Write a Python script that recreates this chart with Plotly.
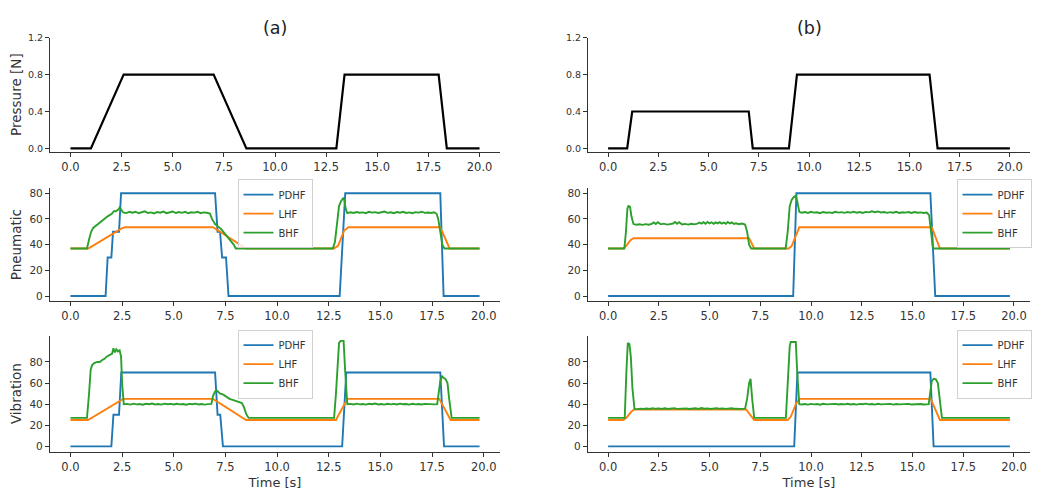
import plotly.graph_objects as go

# ---------------- data ----------------
# Pressure
pa_t = [0, 1.0, 2.6, 7.0, 8.6, 13.0, 13.4, 18.0, 18.4, 20.0]
pa_v = [0, 0, 0.8, 0.8, 0, 0, 0.8, 0.8, 0, 0]
pb_t = [0, 0.95, 1.2, 7.0, 7.2, 9.0, 9.4, 16.0, 16.4, 20.0]
pb_v = [0, 0, 0.4, 0.4, 0, 0, 0.8, 0.8, 0, 0]

# Pneumatic (a)
a_pn_pdhf_t = [0, 1.7, 1.8, 1.98, 2.06, 2.35, 2.45, 7.0, 7.12, 7.24, 7.34, 7.53, 7.65, 13.03, 13.3, 17.9, 18.06, 19.8]
a_pn_pdhf_v = [0, 0, 30, 30, 50, 50, 80, 80, 50, 50, 30, 30, 0, 0, 80, 80, 0, 0]
a_pn_lhf_t = [0, 0.85, 1.0, 2.5, 2.65, 6.9, 8.5, 12.75, 12.95, 13.25, 13.45, 17.9, 18.35, 19.8]
a_pn_lhf_v = [37, 37, 38.2, 52.8, 53.5, 53.5, 37, 37, 39, 51, 53.5, 53.5, 37, 37]
a_pn_bhf_t = [0, 0.8, 0.9, 1.0, 1.1, 1.25, 1.4, 1.6, 1.8, 2.0, 2.1, 2.2, 2.3, 2.38, 2.45, 2.55,
              2.7, 2.85, 3.0, 3.15, 3.3, 3.45, 3.6, 3.75, 3.9, 4.05, 4.2, 4.35, 4.5, 4.65, 4.8, 4.95,
              5.1, 5.25, 5.4, 5.55, 5.7, 5.85, 6.0, 6.15, 6.3, 6.45, 6.6, 6.75,
              6.85, 7.0, 7.15, 7.3, 7.45, 7.6, 7.75, 7.9, 8.0,
              12.7, 12.8, 12.9, 13.0, 13.1, 13.2, 13.25, 13.32, 13.4,
              13.55, 13.7, 13.85, 14.0, 14.15, 14.3, 14.45, 14.6, 14.75, 14.9, 15.05, 15.2, 15.35,
              15.5, 15.65, 15.8, 15.95, 16.1, 16.25, 16.4, 16.55, 16.7, 16.85, 17.0, 17.15, 17.3,
              17.45, 17.6, 17.72, 17.8, 17.9, 18.0, 18.1, 19.8]
a_pn_bhf_v = [37, 37, 44, 50, 53, 55, 57, 60, 62, 64, 66, 66, 67, 69, 67, 65,
              64.5, 65.5, 64.8, 65.6, 64.4, 65.2, 65.9, 64.6, 65.1, 64.3, 65.4, 64.8, 65.7, 64.5, 65.0, 65.8,
              64.6, 65.3, 64.7, 65.5, 64.4, 65.2, 64.9, 65.6, 64.5, 65.1, 64.8, 64.2,
              60, 56, 54, 52, 49, 46, 43, 40, 37,
              37, 42, 56, 70, 74, 76, 75, 68, 64.5,
              65.2, 64.6, 65.4, 64.8, 65.1, 64.5, 65.6, 64.9, 65.3, 64.6, 65.0, 65.7, 64.7,
              65.2, 64.5, 65.4, 64.8, 65.5, 64.6, 65.1, 64.4, 65.3, 64.9, 65.6, 64.7, 65.0,
              64.6, 65.2, 64.0, 60, 50, 40, 37, 37]

# Vibration (a)
a_vb_pdhf_t = [0, 1.98, 2.08, 2.35, 2.46, 7.0, 7.12, 7.25, 7.38, 13.15, 13.35, 17.9, 18.08, 19.8]
a_vb_pdhf_v = [0, 0, 30, 30, 70, 70, 30, 30, 0, 0, 70, 70, 0, 0]
a_vb_lhf_t = [0, 0.85, 2.55, 6.9, 8.5, 12.85, 13.4, 17.85, 18.4, 19.8]
a_vb_lhf_v = [25, 25, 45, 45, 25, 25, 45, 45, 25, 25]
a_vb_bhf_t = [0, 0.8, 0.9, 0.98, 1.05, 1.15, 1.3, 1.42, 1.55, 1.65, 1.75, 1.85, 1.95, 2.02, 2.08,
              2.15, 2.22, 2.3, 2.38, 2.45, 2.5, 2.58,
              2.75, 2.9, 3.05, 3.2, 3.35, 3.5, 3.65, 3.8, 3.95, 4.1, 4.25, 4.4, 4.55, 4.7, 4.85, 5.0,
              5.15, 5.3, 5.45, 5.6, 5.75, 5.9, 6.05, 6.2, 6.35, 6.5, 6.65, 6.82,
              6.9, 7.0, 7.08, 7.15, 7.25, 7.4, 7.55, 7.7, 7.85, 8.0, 8.15, 8.3, 8.4, 8.5, 8.62,
              12.76, 12.85, 12.95, 13.0, 13.08, 13.22, 13.3, 13.4,
              13.55, 13.7, 13.85, 14.0, 14.15, 14.3, 14.45, 14.6, 14.75, 14.9, 15.05, 15.2, 15.35,
              15.5, 15.65, 15.8, 15.95, 16.1, 16.25, 16.4, 16.55, 16.7, 16.85, 17.0, 17.15, 17.3,
              17.45, 17.6, 17.75, 17.82, 17.9, 17.98, 18.05, 18.15, 18.25, 18.33, 18.45, 19.8]
a_vb_bhf_v = [27, 27, 50, 73, 77, 79, 80, 80, 82, 83, 85, 86, 87, 88, 93,
              89, 92, 90, 91, 85, 60, 40,
              40.3, 39.6, 40.5, 39.8, 40.2, 39.5, 40.4, 39.9, 40.6, 39.7, 40.1, 39.6, 40.5, 39.9, 40.3, 39.7,
              40.4, 39.8, 40.2, 39.5, 40.3, 39.9, 40.5, 39.7, 40.1, 39.6, 40.0, 40.2,
              48, 52, 53, 52, 50, 49, 47, 45, 44, 43, 42, 41, 37, 31, 27,
              27, 50, 90, 98, 100, 100, 70, 40,
              40.3, 39.7, 40.5, 39.8, 40.2, 39.6, 40.4, 39.9, 40.6, 39.7, 40.1, 39.6, 40.4,
              39.8, 40.3, 39.7, 40.5, 39.9, 40.2, 39.6, 40.4, 39.8, 40.1, 39.7, 40.3, 39.9,
              40.2, 39.8, 40.0, 50, 62, 67, 65, 64, 60, 45, 27, 27]

# Pneumatic (b)
b_pn_pdhf_t = [0, 9.12, 9.28, 15.88, 16.12, 19.8]
b_pn_pdhf_v = [0, 0, 80, 80, 0, 0]
b_pn_lhf_t = [0, 0.75, 0.9, 1.1, 1.25, 6.95, 7.2, 8.9, 9.05, 9.25, 9.42, 15.95, 16.35, 19.8]
b_pn_lhf_v = [37, 37, 39, 43.5, 45, 45, 37, 37, 39, 47, 53.5, 53.5, 37, 37]
b_pn_bhf_t = [0, 0.8, 0.88, 0.95, 1.0, 1.08, 1.15, 1.25,
              1.4, 1.55, 1.7, 1.85, 2.0, 2.15, 2.25, 2.35, 2.45, 2.6, 2.75, 2.9, 3.05, 3.2, 3.3, 3.4,
              3.5, 3.65, 3.8, 3.95, 4.1, 4.25, 4.4, 4.5, 4.6, 4.7, 4.8, 4.9, 5.0, 5.1, 5.2, 5.3, 5.4,
              5.5, 5.6, 5.7, 5.8, 5.9, 6.0, 6.1, 6.2, 6.3, 6.45, 6.6, 6.75,
              6.85, 6.95, 7.05, 8.75, 8.85, 8.95, 9.05, 9.15, 9.25, 9.32, 9.42,
              9.55, 9.7, 9.85, 10.0, 10.15, 10.3, 10.45, 10.6, 10.75, 10.9, 11.05, 11.2, 11.35,
              11.5, 11.65, 11.8, 11.95, 12.1, 12.25, 12.4, 12.55, 12.7, 12.85, 13.0, 13.15, 13.3,
              13.45, 13.6, 13.75, 13.9, 14.05, 14.2, 14.35, 14.5, 14.65, 14.8, 14.95, 15.1, 15.25,
              15.4, 15.55, 15.7, 15.82, 15.9, 16.0, 16.05, 19.8]
b_pn_bhf_v = [37, 37, 50, 68, 70, 69.5, 62, 56,
              55.5, 55.8, 55.4, 55.9, 55.5, 56.2, 57.3, 56.1, 57.4, 55.8, 56.3, 55.6, 56.0, 56.4, 57.6, 56.2,
              57.5, 55.7, 56.1, 55.6, 56.2, 55.8, 56.3, 57.2, 56.4, 57.5, 56.3, 57.6, 56.5, 57.4, 56.2, 57.3, 56.5,
              57.5, 56.4, 57.2, 56.2, 57.6, 56.5, 57.3, 56.1, 56.6, 55.9, 56.4, 55.6,
              50, 40, 37, 37, 50, 70, 75, 77, 78, 74, 65.5,
              64.8, 65.3, 64.6, 65.5, 64.9, 65.2, 64.5, 65.4, 64.8, 65.1, 64.6, 65.5, 64.9,
              65.3, 64.7, 65.4, 64.9, 65.6, 64.8, 65.3, 64.6, 65.5, 65.1, 65.9, 65.2, 65.8,
              65.0, 65.4, 64.7, 65.3, 64.8, 65.5, 64.6, 65.2, 64.9, 65.4, 64.6, 65.3, 64.8,
              65.1, 64.6, 64.9, 63, 52, 38, 37, 37]

# Vibration (b)
b_vb_pdhf_t = [0, 9.17, 9.33, 15.88, 16.04, 19.8]
b_vb_pdhf_v = [0, 0, 70, 70, 0, 0]
b_vb_lhf_t = [0, 0.75, 0.9, 1.15, 1.3, 6.8, 7.2, 8.85, 9.0, 9.25, 9.42, 15.9, 16.35, 19.8]
b_vb_lhf_v = [25, 25, 27, 33, 35, 35, 25, 25, 28, 40, 45, 45, 25, 25]
b_vb_bhf_t = [0, 0.82, 0.9, 0.97, 1.05, 1.12, 1.2, 1.3,
              1.45, 1.6, 1.75, 1.9, 2.05, 2.2, 2.35, 2.5, 2.65, 2.8, 2.95, 3.1, 3.25, 3.4, 3.55, 3.7,
              3.85, 4.0, 4.15, 4.3, 4.45, 4.6, 4.75, 4.9, 5.05, 5.2, 5.35, 5.5, 5.65, 5.8, 5.95, 6.1,
              6.25, 6.4, 6.55, 6.75,
              6.85, 6.95, 7.02, 7.1, 7.2, 8.76, 8.85, 8.95, 9.0, 9.25, 9.32, 9.42,
              9.55, 9.7, 9.85, 10.0, 10.15, 10.3, 10.45, 10.6, 10.75, 10.9, 11.05, 11.2, 11.35,
              11.5, 11.65, 11.8, 11.95, 12.1, 12.25, 12.4, 12.55, 12.7, 12.85, 13.0, 13.15, 13.3,
              13.45, 13.6, 13.75, 13.9, 14.05, 14.2, 14.35, 14.5, 14.65, 14.8, 14.95, 15.1, 15.25,
              15.4, 15.55, 15.7, 15.8, 15.88, 15.95, 16.05, 16.15, 16.25, 16.35, 16.45, 19.8]
b_vb_bhf_v = [27, 27, 70, 98, 97, 85, 55, 35.5,
              35.3, 35.8, 35.4, 35.9, 35.5, 36.2, 35.6, 36.0, 35.5, 36.1, 35.4, 35.9, 36.2, 35.5, 35.9, 35.6,
              36.0, 35.4, 35.8, 36.1, 35.5, 36.3, 35.7, 36.0, 35.5, 35.9, 36.2, 35.6, 36.0, 35.5, 35.9, 36.1,
              35.6, 35.9, 35.5, 35.8,
              45, 60, 64, 45, 27, 27, 60, 95, 99, 99, 70, 40,
              39.7, 40.2, 39.6, 40.3, 39.8, 40.1, 39.5, 40.4, 39.8, 40.0, 39.6, 40.3, 39.7,
              40.2, 39.8, 40.4, 39.7, 40.1, 39.6, 40.3, 39.9, 40.5, 39.8, 40.2, 39.6, 40.4,
              39.8, 40.1, 39.7, 40.3, 39.6, 40.2, 39.8, 40.0, 39.6, 40.3, 39.7, 40.1, 39.8,
              40.2, 39.7, 40.0, 40.0, 52, 62, 64, 63.5, 60, 40, 27, 27]

series_names = ["PDHF", "LHF", "BHF"]
colors = ["#1f77b4", "#ff7f0e", "#2ca02c"]

# ---------------- figure ----------------
fig = go.Figure()
FONT = "DejaVu Sans"

# page offset (body margin) compensation
OFF = 8
W, H = 1034, 484


def px(x):
    return (x - OFF) / W


def py(y):
    return 1 - (y - OFF) / H


# axis index: 1 top-left, 2 top-right, 3 mid-left, 4 mid-right, 5 bot-left, 6 bot-right
def ax(i):
    return ("x" if i == 1 else f"x{i}"), ("y" if i == 1 else f"y{i}")


xa, ya = ax(1)
fig.add_trace(go.Scatter(x=pa_t, y=pa_v, mode="lines", line=dict(color="black", width=2.2),
                         xaxis=xa, yaxis=ya, showlegend=False))
xa, ya = ax(2)
fig.add_trace(go.Scatter(x=pb_t, y=pb_v, mode="lines", line=dict(color="black", width=2.2),
                         xaxis=xa, yaxis=ya, showlegend=False))

groups = [
    (3, "legend", [(a_pn_pdhf_t, a_pn_pdhf_v), (a_pn_lhf_t, a_pn_lhf_v), (a_pn_bhf_t, a_pn_bhf_v)]),
    (5, "legend2", [(a_vb_pdhf_t, a_vb_pdhf_v), (a_vb_lhf_t, a_vb_lhf_v), (a_vb_bhf_t, a_vb_bhf_v)]),
    (4, "legend3", [(b_pn_pdhf_t, b_pn_pdhf_v), (b_pn_lhf_t, b_pn_lhf_v), (b_pn_bhf_t, b_pn_bhf_v)]),
    (6, "legend4", [(b_vb_pdhf_t, b_vb_pdhf_v), (b_vb_lhf_t, b_vb_lhf_v), (b_vb_bhf_t, b_vb_bhf_v)]),
]
for idx, leg, ser in groups:
    xa, ya = ax(idx)
    for (t, v), name, c in zip(ser, series_names, colors):
        fig.add_trace(go.Scatter(x=t, y=v, mode="lines", name=name,
                                 line=dict(color=c, width=1.9),
                                 xaxis=xa, yaxis=ya, legend=leg, showlegend=True))

colx = [(px(50), px(500)), (px(588), px(1030))]
rowy = [(py(148), py(32)), (py(300), py(185)), (py(453), py(335))]

axcol = "#333333"
layout = dict(
    width=W, height=H, margin=dict(l=0, r=0, t=0, b=0),
    plot_bgcolor="white", paper_bgcolor="white",
    font=dict(family=FONT, color="#333333"),
)
yranges = [[-0.035, 1.2], [-4, 84], [-5, 105]]
yticks = [[0, 0.4, 0.8, 1.2], [0, 20, 40, 60, 80], [0, 20, 40, 60, 80]]
ytickfmt = [".1f", "d", "d"]
xranges = [[-1, 21], [-0.99, 20.79], [-0.99, 20.79]]
ytitles = ["Pressure [N]", "Pneumatic", "Vibration"]
ytickfs = [9.5, 10.5, 10.5]

for r in range(3):
    for c in range(2):
        i = r * 2 + c + 1
        xk = "xaxis" if i == 1 else f"xaxis{i}"
        yk = "yaxis" if i == 1 else f"yaxis{i}"
        xa, ya = ax(i)
        layout[xk] = dict(
            domain=list(colx[c]), anchor=ya, range=xranges[r],
            tickvals=[0, 2.5, 5, 7.5, 10, 12.5, 15, 17.5, 20], tickformat=".1f",
            showline=True, linecolor=axcol, linewidth=1.2, ticks="outside", ticklen=4,
            tickcolor=axcol, showgrid=False, zeroline=False,
            tickfont=dict(size=11.5, color="#333333"),
        )
        if r == 2:
            layout[xk]["title"] = dict(text="Time [s]", font=dict(size=13), standoff=5)
        layout[yk] = dict(
            domain=list(rowy[r]), anchor=xa, range=yranges[r],
            tickvals=yticks[r], tickformat=ytickfmt[r],
            showline=True, linecolor=axcol, linewidth=1.2, ticks="outside", ticklen=4,
            tickcolor=axcol, showgrid=False, zeroline=False,
            tickfont=dict(size=ytickfs[r], color="#333333"),
        )
        if c == 0:
            layout[yk]["title"] = dict(text=ytitles[r], font=dict(size=13.5), standoff=7)

legstyle = dict(bgcolor="rgba(255,255,255,0.8)", bordercolor="#d0d0d0", borderwidth=1,
                font=dict(size=10, color="#333333"), xanchor="center", yanchor="middle",
                itemwidth=30, tracegroupgap=0)
layout["legend"] = dict(x=px(275), y=py(211), **legstyle)
layout["legend2"] = dict(x=px(275), y=py(364), **legstyle)
layout["legend3"] = dict(x=px(994), y=py(211), **legstyle)
layout["legend4"] = dict(x=px(994), y=py(364), **legstyle)

layout["annotations"] = [
    dict(text="(a)", x=px(275), y=py(22), xref="paper", yref="paper", showarrow=False,
         font=dict(size=17.5, color="#222222"), xanchor="center", yanchor="middle"),
    dict(text="(b)", x=px(809), y=py(22), xref="paper", yref="paper", showarrow=False,
         font=dict(size=17.5, color="#222222"), xanchor="center", yanchor="middle"),
]

fig.update_layout(**layout)
fig.write_html("out.html")
